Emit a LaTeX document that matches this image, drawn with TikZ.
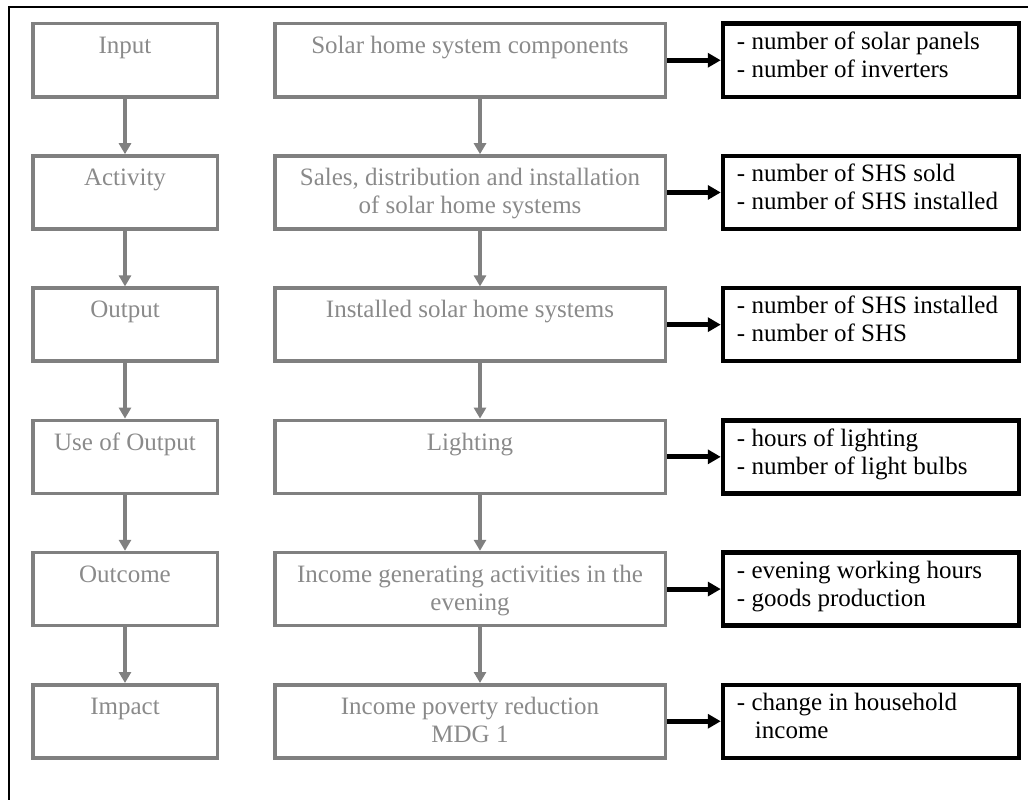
\documentclass[tikz,border=0pt]{standalone}
\usepackage{fontspec}
\setmainfont{Liberation Serif}
\usetikzlibrary{arrows.meta}
\definecolor{boxgray}{RGB}{128,128,128}
\definecolor{textgray}{RGB}{138,138,138}

\begin{document}
\begin{tikzpicture}[x=1pt,y=-1pt,
  stage/.style={draw=boxgray, line width=3.5pt, minimum width=184.5pt,
    minimum height=73pt, inner sep=0pt},
  detail/.style={stage, minimum width=390.5pt},
  measure/.style={draw=black, line width=4.5pt, minimum width=296pt,
    minimum height=73pt, inner sep=0pt},
  gtext/.style={anchor=north, inner sep=0pt, text=textgray, align=center,
    font=\fontsize{25}{28}\selectfont},
  btext/.style={anchor=north west, inner sep=0pt, align=left,
    font=\fontsize{25}{28}\selectfont},
  flow/.style={draw=boxgray, line width=3.5pt, -{Triangle[length=11pt,width=12pt]}},
  link/.style={draw=black, line width=5pt, -{Triangle[length=13pt,width=14pt]}}
]
\useasboundingbox (0,0) rectangle (1028,800);

% open frame: top and left edges
\draw[line width=2pt] (9,800) -- (9,7) -- (1028,7);

% rows of the chain
\foreach \i/\y in {1/60.25,2/192.45,3/324.65,4/456.85,5/589.05,6/721.25}{
  \node[stage]   (s\i) at (125,\y) {};
  \node[detail]  (d\i) at (470,\y) {};
  \node[measure] (m\i) at (871,\y) {};
}

% stage names
\node[gtext] (ts1) at ([yshift=-11.6pt]s1.north) {\strut Input};
\node[gtext] (ts2) at ([yshift=-11.6pt]s2.north) {\strut Activity};
\node[gtext] (ts3) at ([yshift=-11.6pt]s3.north) {\strut Output};
\node[gtext] (ts4) at ([yshift=-11.6pt]s4.north) {\strut Use of Output};
\node[gtext] (ts5) at ([yshift=-11.6pt]s5.north) {\strut Outcome};
\node[gtext] (ts6) at ([yshift=-11.6pt]s6.north) {\strut Impact};

% stage contents
\node[gtext] (td1) at ([yshift=-11.6pt]d1.north) {\strut Solar home system components};
\node[gtext] (td2) at ([yshift=-11.6pt]d2.north) {\strut Sales, distribution and installation\\\strut of solar home systems};
\node[gtext] (td3) at ([yshift=-11.6pt]d3.north) {\strut Installed solar home systems};
\node[gtext] (td4) at ([yshift=-11.6pt]d4.north) {\strut Lighting};
\node[gtext] (td5) at ([yshift=-11.6pt]d5.north) {\strut Income generating activities in the\\\strut evening};
\node[gtext] (td6) at ([yshift=-11.6pt]d6.north) {\strut Income poverty reduction\\\strut MDG 1};

% indicators
\node[btext] (tm1) at ([xshift=16pt,yshift=-8.2pt]m1.north west) {\strut - number of solar panels\\\strut - number of inverters};
\node[btext] (tm2) at ([xshift=16pt,yshift=-8.2pt]m2.north west) {\strut - number of SHS sold\\\strut - number of SHS installed};
\node[btext] (tm3) at ([xshift=16pt,yshift=-8.2pt]m3.north west) {\strut - number of SHS installed\\\strut - number of SHS};
\node[btext] (tm4) at ([xshift=16pt,yshift=-8.2pt]m4.north west) {\strut - hours of lighting\\\strut - number of light bulbs};
\node[btext] (tm5) at ([xshift=16pt,yshift=-8.2pt]m5.north west) {\strut - evening working hours\\\strut - goods production};
\node[btext] (tm6) at ([xshift=16pt,yshift=-8.2pt]m6.north west) {\strut - change in household\\\strut\hspace*{18pt}income};

% connectors
\foreach \i/\j in {1/2,2/3,3/4,4/5,5/6}{
  \draw[flow] (s\i.south) -- (s\j.north);
  \draw[flow] ([xshift=10pt]d\i.south) -- ([xshift=10pt]d\j.north);
}
\foreach \i in {1,...,6}{
  \draw[link] (d\i.east) -- (m\i.west);
}
\end{tikzpicture}
\end{document}
